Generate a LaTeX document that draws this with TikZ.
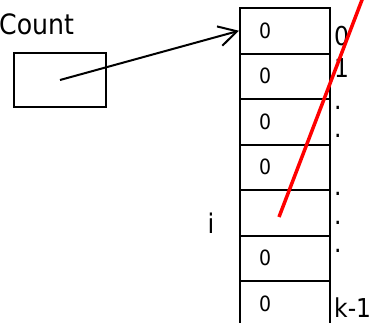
\documentclass[tikz,border=0pt]{standalone}
\usepackage{fontspec}
\setmainfont{DejaVu Sans Condensed}
\usetikzlibrary{arrows.meta,positioning,calc}
\tikzset{
  cell/.style = {draw, line width = 2pt, minimum height = 45.5pt, text width = 52pt,
                 inner xsep = 19pt, inner ysep = 0pt, align = left, font = \fontsize{21}{24}\selectfont},
  idx/.style = {anchor = base west, inner sep = 0pt, font = \fontsize{26}{30}\selectfont},
}
\begin{document}
\begin{tikzpicture}[x = 1pt, y = -1pt, >={Straight Barb[length=18pt,width=20pt]}]
    \useasboundingbox (0,0) rectangle (371,322);
    % counter array
    \foreach \v [count = \k from 0] in {0,0,0,0,{},0,0}
        \node[cell] (c\k) at (285, 30.75+45.5*\k) {\v};
    % count variable
    \node[draw, line width = 2pt, minimum width = 92pt, minimum height = 54pt] (cnt) at (60,80) {};
    \node[anchor = base west, inner sep = 0pt, font = \fontsize{28}{32}\selectfont] (cntlbl) at (-1,34) {Count};
    \draw[->, line width = 2pt] (cnt.center) -- (c0.west);
        % Labels
    \node[idx] (i0) at (334,45) {0};
    \node[idx] (i1) at (334,77) {1};
    \foreach \y [count = \n] in {109,137,195,224,252}
        \node[idx] (d\n) at (334,\y) {.};
    \node[idx] (ik) at (334,317) {k-1};
    \node[anchor = base, inner sep = 0pt, font = \fontsize{27}{30}\selectfont] (ilbl) at (211,233) {i};
    % pointer into cell i
    \coordinate (ptr) at (279,217);
    \coordinate (ptrend) at (365,-8);
    \draw[red, line width = 3.5pt] (ptr) -- (ptrend);
\end{tikzpicture}
\end{document}
